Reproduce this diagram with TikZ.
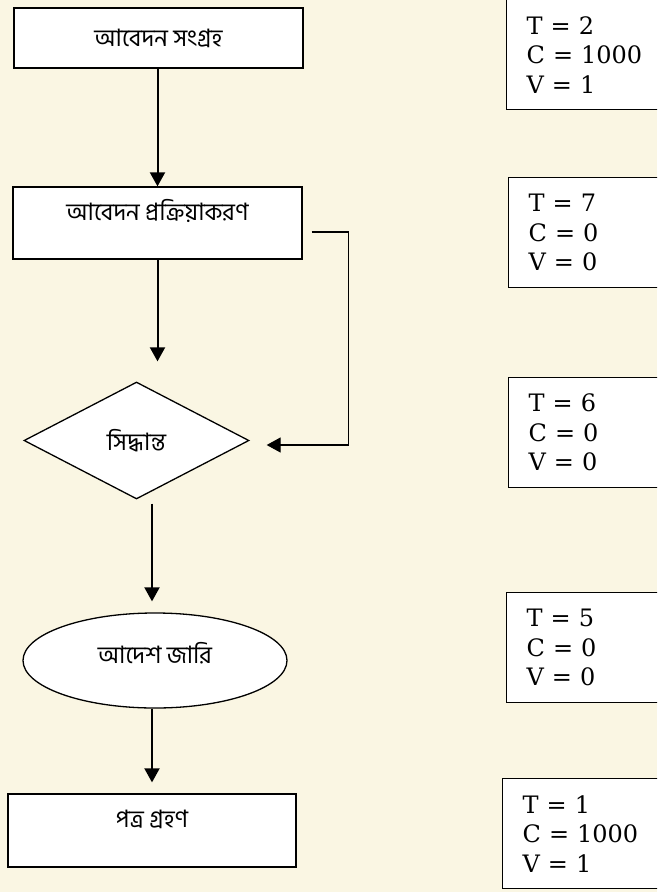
\documentclass[tikz,border=0pt]{standalone}
\usepackage{fontspec}
\usepackage{xcolor}
\setmainfont{DejaVu Serif}
\newfontfamily\bnfont[Script=Bengali]{Hind Siliguri}
\usetikzlibrary{arrows.meta, shapes.geometric}
\definecolor{paper}{HTML}{FAF6E3}

\begin{document}
\begin{tikzpicture}[x=1pt, y=-1pt,
        step box/.style={draw, fill=white, line width=1.3pt, inner sep=0pt,
                minimum width=289pt, font=\bnfont\fontsize{24}{28}\selectfont},
        val box/.style={draw, fill=white, line width=1.3pt, anchor=north west,
                minimum height=110pt, text width=170pt, inner xsep=20pt, align=left,
                font=\fontsize{24}{29.5}\selectfont},
        arr/.style={line width=2pt, -{Triangle[length=14pt,width=15pt]}}]
        \fill[paper] (0,0) rectangle (657,892);
        \useasboundingbox (0,0) rectangle (657,892);
        \clip (0,0) rectangle (657,892);

        % flow on the left
        \node[step box, minimum height=60pt] (b1) at (158.5,38) {আবেদন সংগ্রহ};
        \node[step box, minimum height=72pt, text depth=26pt] (b2) at (157.5,223) {আবেদন প্রক্রিয়াকরণ};
        \node[step box, diamond, minimum width=225pt, minimum height=117pt, aspect=1.92] (dec) at (136.5,440.5) {সিদ্ধান্ত};
        \node[step box, ellipse, minimum width=264pt, minimum height=95pt, text depth=16pt] (ord) at (155,660.5) {আদেশ জারি};
        \node[step box, minimum width=288pt, minimum height=73pt, text depth=23pt] (b5) at (152,830.5) {পত্র গ্রহণ};

        \draw[arr] (b1.south -| b2.north) -- (b2.north);
        \draw[arr, shorten >=20pt] (b2.south) -- (b2.south |- dec.north);
        \draw[arr, shorten <=4pt, shorten >=11pt] (b5.north |- dec.south) -- (b5.north |- ord.north);
        \draw[arr, shorten >=11pt] (b5.north |- ord.south) -- (b5.north);
        \draw[line width=1.3pt, -{Triangle[length=14pt,width=15pt]}]
                ([shift={(9pt,-9pt)}]b2.east) -| ([shift={(99pt,-4.5pt)}]dec.east) -- ([shift={(17pt,-4.5pt)}]dec.east);

        % values on the right
        \node[val box] (vA) at (506,-1) {T = 2\\C = 1000\\V = 1};
        \node[val box] (vB) at (508,177) {T = 7\\C = 0\\V = 0};
        \node[val box] (vC) at (508,377) {T = 6\\C = 0\\V = 0};
        \node[val box] (vD) at (506,592) {T = 5\\C = 0\\V = 0};
        \node[val box] (vE) at (502,778) {T = 1\\C = 1000\\V = 1};
\end{tikzpicture}
\end{document}
